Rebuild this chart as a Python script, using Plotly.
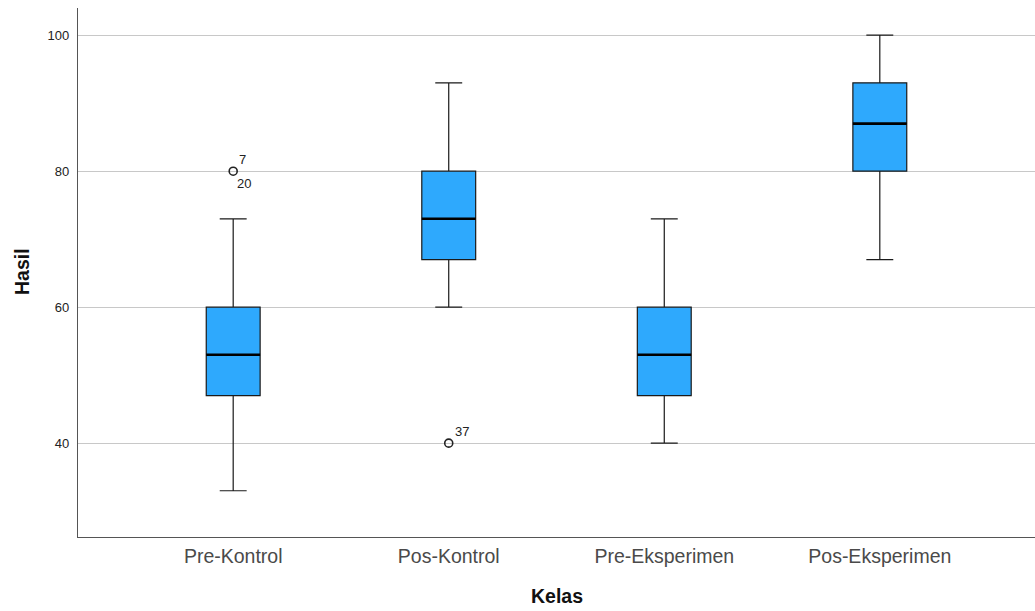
import plotly.graph_objects as go

categories = ["Pre-Kontrol", "Pos-Kontrol", "Pre-Eksperimen", "Pos-Eksperimen"]
lower_whisker = [33, 60, 40, 67]
q1 = [47, 67, 47, 80]
median = [53, 73, 53, 87]
q3 = [60, 80, 60, 93]
upper_whisker = [73, 93, 73, 100]

outlier_cat = [0, 1]
outlier_val = [80, 40]
outlier_labels = [["7", "20"], ["37"]]

y_ticks = [40, 60, 80, 100]

FONT = "Arial, Liberation Sans, sans-serif"
BOX_W = 0.25
xpos = list(range(len(categories)))

fig = go.Figure()
fig.add_trace(go.Box(
    x=xpos, q1=q1, median=median, q3=q3,
    lowerfence=lower_whisker, upperfence=upper_whisker,
    boxpoints=False, width=BOX_W, whiskerwidth=0.5,
    fillcolor="#2EA9FD", line=dict(color="#1a1a1a", width=1.2),
    showlegend=False, hoverinfo="skip",
))

# thick median lines
mx, my = [], []
for i, m in zip(xpos, median):
    mx += [i - BOX_W / 2, i + BOX_W / 2, None]
    my += [m, m, None]
fig.add_trace(go.Scatter(x=mx, y=my, mode="lines",
                         line=dict(color="black", width=2.6),
                         showlegend=False, hoverinfo="skip"))

# outliers
fig.add_trace(go.Scatter(
    x=[xpos[c] for c in outlier_cat], y=outlier_val, mode="markers",
    marker=dict(symbol="circle-open", size=8, color="#222",
                line=dict(width=1.6, color="#222")),
    showlegend=False, hoverinfo="skip"))

annotations = []
for c, v, labs in zip(outlier_cat, outlier_val, outlier_labels):
    annotations.append(dict(x=xpos[c], y=v, text=labs[0], showarrow=False,
                            xanchor="left", yanchor="bottom", xshift=4, yshift=2,
                            font=dict(family=FONT, size=13, color="#222")))
    if len(labs) > 1:
        annotations.append(dict(x=xpos[c], y=v, text=labs[1], showarrow=False,
                                xanchor="left", yanchor="top", xshift=2, yshift=-3,
                                font=dict(family=FONT, size=13, color="#222")))

annotations.append(dict(x=-0.0585, y=0.501, xref="paper", yref="paper",
                        xanchor="center", yanchor="middle",
                        text="<b>Hasil</b>", textangle=-90, showarrow=False,
                        font=dict(family=FONT, size=19.5, color="#111")))
annotations.append(dict(x=0.5005, y=-0.1115, xref="paper", yref="paper",
                        xanchor="center", yanchor="middle",
                        text="<b>Kelas</b>", showarrow=False,
                        font=dict(family=FONT, size=19.5, color="#111")))

fig.update_layout(
    width=1035, height=611,
    margin=dict(l=78, r=0, t=8, b=74),
    plot_bgcolor="white", paper_bgcolor="white",
    font=dict(family=FONT),
    annotations=annotations,
    xaxis=dict(range=[-0.72, 3.72], tickvals=xpos, ticktext=categories,
               showgrid=False, zeroline=False, showline=True,
               linecolor="#555", linewidth=1.3, ticks="outside", ticklen=1,
               tickcolor="rgba(0,0,0,0)",
               tickfont=dict(family=FONT, size=19.5, color="#4a4a4a")),
    yaxis=dict(range=[26.2, 104], tickvals=y_ticks,
               showgrid=True, gridcolor="#c8c8c8", gridwidth=1,
               zeroline=False, showline=True, linecolor="#555", linewidth=1.3,
               ticks="outside", ticklen=5, tickcolor="rgba(0,0,0,0)",
               tickfont=dict(family=FONT, size=13, color="#222")),
)

fig.write_html("out.html")
